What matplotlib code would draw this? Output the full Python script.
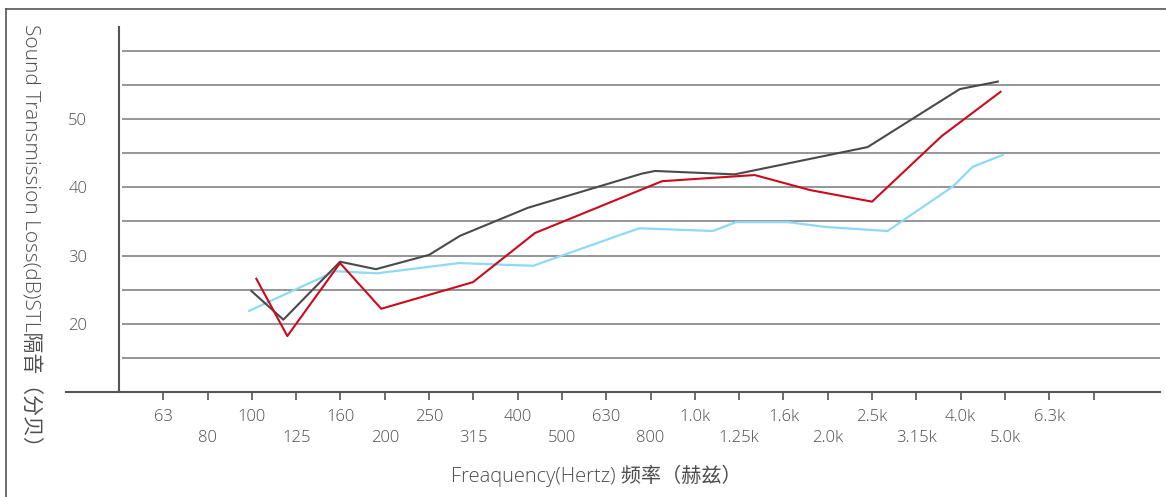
import matplotlib.pyplot as plt
from matplotlib.lines import Line2D

plt.rcParams['font.family'] = ['Open Sans', 'Noto Sans CJK SC', 'DejaVu Sans']
plt.rcParams['font.weight'] = 'light'

# frequency bands (one third octave), positions 0..21 on the category axis
freq_labels = ["63", "80", "100", "125", "160", "200", "250", "315", "400", "500",
               "630", "800", "1.0k", "1.25k", "1.6k", "2.0k", "2.5k", "3.15k",
               "4.0k", "5.0k", "6.3k", ""]

# curves (x = band position, y = dB)
gray_x = [1.99, 2.71, 3.99, 4.80, 6.0, 6.70, 8.23, 10.8, 11.1, 12.9, 15.9, 17.98, 18.84]
gray_y = [24.8, 20.6, 29.1, 28.0, 30.1, 32.9, 37.0, 42.0, 42.4, 41.9, 45.9, 54.4, 55.5]

red_x = [2.10, 2.80, 3.99, 4.92, 6.99, 8.39, 11.26, 13.35, 14.6, 16.0, 17.57, 18.9]
red_y = [26.6, 18.2, 28.9, 22.2, 26.1, 33.3, 40.9, 41.8, 39.6, 37.9, 47.5, 54.0]

blue_x = [1.94, 3.88, 4.83, 6.68, 8.35, 10.74, 12.41, 12.93, 14.1, 14.93, 16.35, 17.82, 18.27, 18.95]
blue_y = [21.9, 27.7, 27.4, 28.9, 28.5, 34.0, 33.6, 34.9, 34.9, 34.2, 33.6, 40.1, 43.0, 44.75]

grid_levels = [15, 20, 25, 30, 35, 40, 45, 50, 55, 60]
y_ticks = [20, 30, 40, 50]

txt = '#4d4d4d'

fig = plt.figure(figsize=(11.66, 4.97), dpi=100)
ax = fig.add_axes([119 / 1166, 1 - 392 / 497, (1160 - 119) / 1166, (392 - 27) / 497])
ax.set_xlim(-1, 22.5)
ax.set_ylim(10, 63.5)
for s in ax.spines.values():
    s.set_visible(False)

# grid lines
ax.hlines(grid_levels, -0.93, 22.5, color='#8c8c8c', lw=1.3, zorder=1)

# axis lines
ax.plot([-2.19, 22.5], [10, 10], color='#555555', lw=1.5, clip_on=False, zorder=3)
ax.plot([-1, -1], [10, 63.5], color='#555555', lw=1.5, clip_on=False, zorder=3)

ax.plot(gray_x, gray_y, color='#4a4a4a', lw=1.5, zorder=4)
ax.plot(red_x, red_y, color='#cc0a1e', lw=1.5, zorder=5)
ax.plot(blue_x, blue_y, color='#8ed8f8', lw=1.6, zorder=3)

# x ticks, labels alternate between two rows
labels = [lab if i % 2 == 0 else "\n" + lab for i, lab in enumerate(freq_labels)]
ax.set_xticks(range(len(freq_labels)))
ax.set_xticklabels(labels, fontsize=12, color=txt, linespacing=1.45, va='top')
ax.tick_params(axis='x', direction='out', length=6, width=1.2, color='#555555', pad=6)

ax.set_yticks(y_ticks)
ax.set_yticklabels([str(v) for v in y_ticks], fontsize=12, color=txt)
ax.tick_params(axis='y', length=0, pad=23)

fig.text(30 / 1166, 1 - 240 / 497, "Sound Transmission Loss(dB)STL隔音（分贝）",
         rotation=270, ha='center', va='center', fontsize=15, color=txt)
fig.text(596 / 1166, 1 - 476 / 497, "Freaquency(Hertz) 频率（赫兹）",
         ha='center', va='center', fontsize=14.5, color=txt)

# outer frame (top and left)
fig.add_artist(Line2D([6 / 1166, 1], [1 - 9 / 497, 1 - 9 / 497], color='#555555', lw=1.2))
fig.add_artist(Line2D([6 / 1166, 6 / 1166], [0, 1 - 9 / 497], color='#555555', lw=1.2))

fig.savefig('out.png', dpi=100)
